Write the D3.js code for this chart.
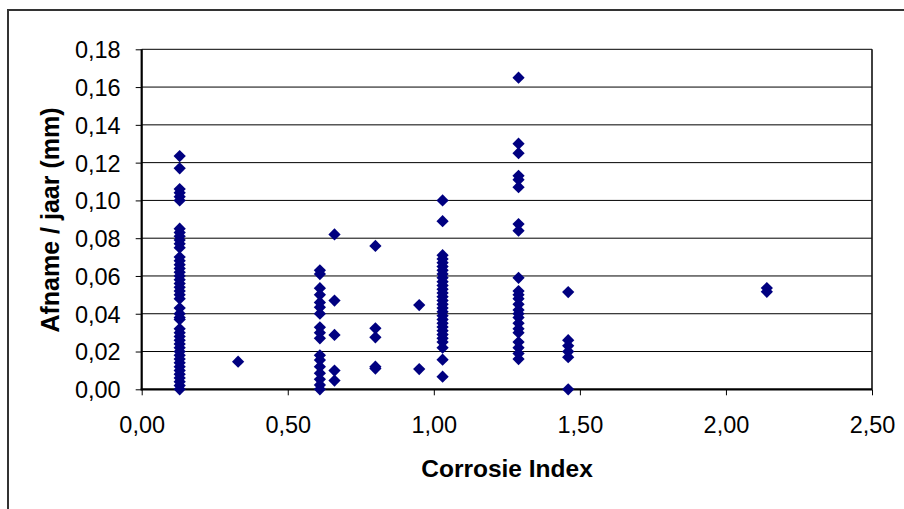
<!DOCTYPE html>
<html>
<head>
<meta charset="utf-8">
<script src="https://cdn.jsdelivr.net/npm/d3@7/dist/d3.min.js"></script>
<style>
  html, body { margin: 0; padding: 0; background: #fff; }
  svg { display: block; font-family: "Liberation Sans", Arial, sans-serif; }
</style>
</head>
<body>
<svg id="chart" width="904" height="509"></svg>
<script>
// Corrosie index per meetgroep (x) en gemeten afname per jaar in mm (y)
const corrosieIndex = [0.13, 0.33, 0.61, 0.66, 0.80, 0.95, 1.03, 1.29, 1.46, 2.14];

const afnameGroep013 = [0.1235, 0.117, 0.106, 0.104, 0.102, 0.100, 0.085, 0.083, 0.081, 0.079,
  0.077, 0.075, 0.070, 0.068, 0.066, 0.064, 0.062, 0.060, 0.058, 0.056, 0.054, 0.052,
  0.050, 0.048, 0.043, 0.040, 0.038, 0.037, 0.032, 0.030, 0.028, 0.026, 0.024, 0.022,
  0.020, 0.018, 0.016, 0.014, 0.012, 0.010, 0.008, 0.006, 0.004, 0.002, 0.000];
const afnameGroep033 = [0.0146];
const afnameGroep061 = [0.063, 0.061, 0.0535, 0.050, 0.046, 0.0434, 0.040, 0.0328, 0.030,
  0.027, 0.018, 0.0155, 0.012, 0.0085, 0.0053, 0.0023, 0.000];
const afnameGroep066 = [0.082, 0.047, 0.0288, 0.0099, 0.0046];
const afnameGroep080 = [0.0759, 0.0323, 0.0275, 0.012, 0.011];
const afnameGroep095 = [0.0446, 0.0107];
const afnameGroep103 = [0.100, 0.089, 0.071, 0.069, 0.067, 0.065, 0.063, 0.061, 0.059, 0.057,
  0.055, 0.053, 0.051, 0.049, 0.047, 0.045, 0.043, 0.041, 0.039, 0.037, 0.035, 0.033,
  0.031, 0.029, 0.027, 0.025, 0.022, 0.0157, 0.0067];
const afnameGroep129 = [0.165, 0.130, 0.125, 0.113, 0.111, 0.107, 0.0875, 0.0840, 0.0590,
  0.052, 0.050, 0.048, 0.045, 0.042, 0.040, 0.038, 0.035, 0.032, 0.030, 0.025, 0.022,
  0.019, 0.016];
const afnameGroep146 = [0.0515, 0.026, 0.023, 0.020, 0.017, 0.000];
const afnameGroep214 = [0.0536, 0.0516];

const afnamePerGroep = [afnameGroep013, afnameGroep033, afnameGroep061, afnameGroep066,
  afnameGroep080, afnameGroep095, afnameGroep103, afnameGroep129, afnameGroep146, afnameGroep214];

const xTicks = [0, 0.5, 1.0, 1.5, 2.0, 2.5];
const yTicks = [0, 0.02, 0.04, 0.06, 0.08, 0.10, 0.12, 0.14, 0.16, 0.18];

const xTitle = "Corrosie Index";
const yTitle = "Afname / jaar (mm)";

// Flat list of points built from the groups
const points = [];
corrosieIndex.forEach((ci, i) => {
  afnamePerGroep[i].forEach(v => points.push({ x: ci, y: v }));
});

const svg = d3.select("#chart");
const plot = { left: 141.7, right: 872, top: 49.3, bottom: 389.3 };

const x = d3.scaleLinear().domain([0, 2.5]).range([plot.left, plot.right]);
const y = d3.scaleLinear().domain([0, 0.18]).range([plot.bottom, plot.top]);
const fmt = d => d3.format(".2f")(d).replace(".", ",");

// Outer chart frame
svg.append("rect")
  .attr("x", 8).attr("y", 10)
  .attr("width", 1000).attr("height", 1000)
  .attr("fill", "none").attr("stroke", "#333").attr("stroke-width", 2);

// Horizontal gridlines
svg.append("g").selectAll("line").data(yTicks.filter(t => t > 0)).join("line")
  .attr("x1", plot.left).attr("x2", plot.right)
  .attr("y1", d => y(d)).attr("y2", d => y(d))
  .attr("stroke", "#000").attr("stroke-width", 1);

// Plot area border (right side)
svg.append("line")
  .attr("x1", plot.right).attr("x2", plot.right)
  .attr("y1", plot.top).attr("y2", plot.bottom)
  .attr("stroke", "#111").attr("stroke-width", 1.6);

// Axes
const yAxis = d3.axisLeft(y).tickValues(yTicks).tickFormat(fmt).tickSize(6).tickPadding(15);
const xAxis = d3.axisBottom(x).tickValues(xTicks).tickFormat(fmt).tickSize(6).tickPadding(21);

const gy = svg.append("g").attr("transform", `translate(${plot.left},0)`).call(yAxis);
const gx = svg.append("g").attr("transform", `translate(0,${plot.bottom})`).call(xAxis);

[gx, gy].forEach(g => {
  g.select(".domain").remove();
  g.selectAll(".tick line").attr("stroke", "#000").attr("stroke-width", 1);
  g.selectAll(".tick text")
    .attr("fill", "#000")
    .style("font-size", "23.5px")
    .style("font-family", "'Liberation Sans', Arial, sans-serif");
});
gy.selectAll(".tick text").attr("dy", "0.36em");

svg.append("line")
  .attr("x1", plot.left).attr("x2", plot.left)
  .attr("y1", plot.top).attr("y2", plot.bottom + 1)
  .attr("stroke", "#000").attr("stroke-width", 2.2);
svg.append("line")
  .attr("x1", plot.left - 1).attr("x2", plot.right)
  .attr("y1", plot.bottom).attr("y2", plot.bottom)
  .attr("stroke", "#000").attr("stroke-width", 2.2);

// Diamond markers
const diamond = {
  draw(ctx, size) {
    const r = Math.sqrt(size) / 2;
    ctx.moveTo(0, -r); ctx.lineTo(r, 0); ctx.lineTo(0, r); ctx.lineTo(-r, 0); ctx.closePath();
  }
};
svg.append("g").selectAll("path").data(points).join("path")
  .attr("d", d3.symbol().type(diamond).size(150))
  .attr("transform", d => `translate(${x(d.x)},${y(d.y)})`)
  .attr("fill", "#000080");

// Axis titles
svg.append("text")
  .attr("x", 507).attr("y", 468)
  .attr("text-anchor", "middle").attr("dominant-baseline", "central")
  .style("font-size", "24.5px").style("font-weight", "bold")
  .text(xTitle);

svg.append("text")
  .attr("transform", `translate(50,220) rotate(-90)`)
  .attr("text-anchor", "middle").attr("dominant-baseline", "central")
  .style("font-size", "25px").style("font-weight", "bold")
  .text(yTitle);
</script>
</body>
</html>
